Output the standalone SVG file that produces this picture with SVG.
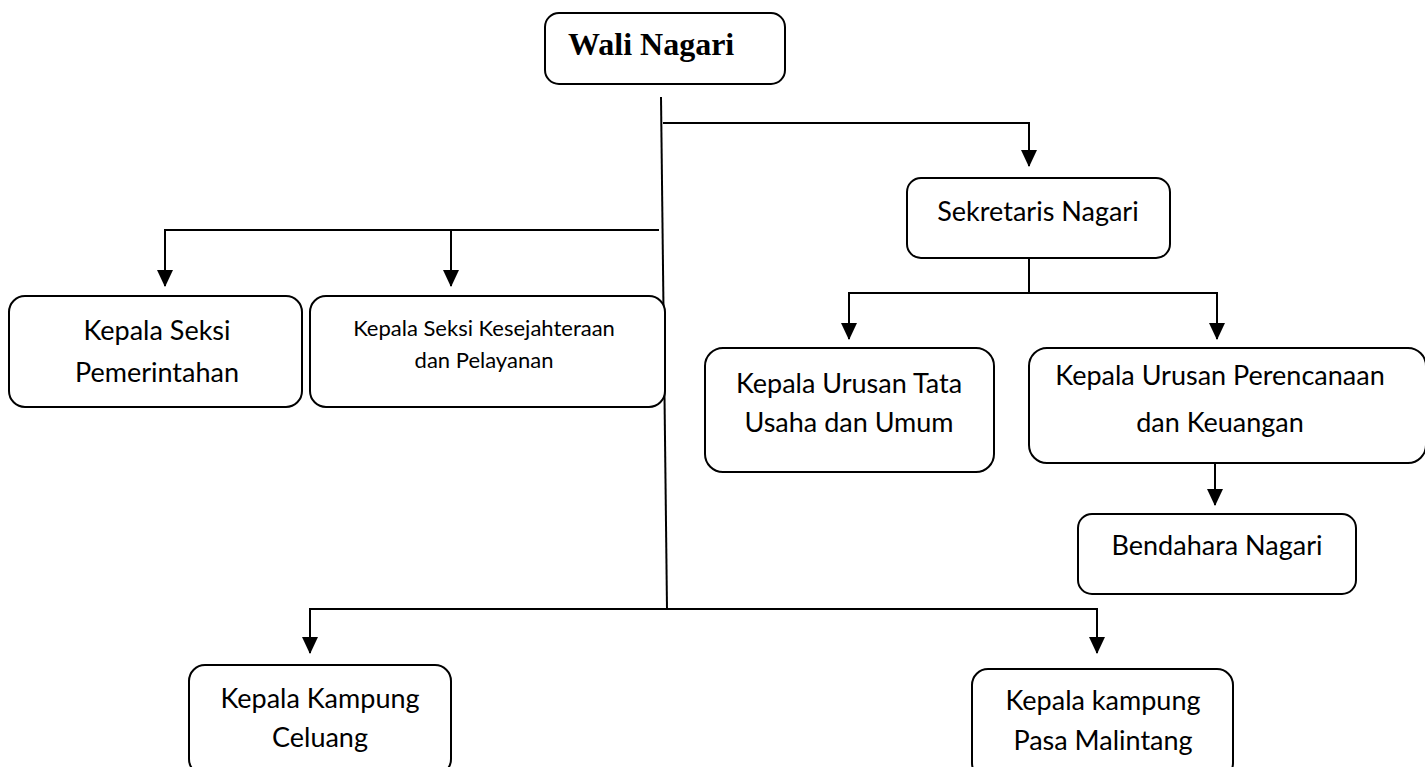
<svg xmlns="http://www.w3.org/2000/svg" width="1425" height="767" viewBox="0 0 1425 767">
<style>
.box{fill:#fff;stroke:#000;stroke-width:2}
.t{font-family:Lato,"Open Sans",sans-serif;font-size:27px;fill:#000;text-anchor:middle}
.s{font-size:22px}
.ln{fill:none;stroke:#000;stroke-width:2}
.ar{fill:none;stroke:#000;stroke-width:2;marker-end:url(#ah)}
</style>
<defs>
<marker id="ah" markerUnits="userSpaceOnUse" markerWidth="17" markerHeight="16" refX="16" refY="8" orient="auto" viewBox="0 0 17 16">
<path d="M0,0 L17,8 L0,16 Z" fill="#000"/>
</marker>
</defs>
<rect width="1425" height="767" fill="#fff"/>
<g id="connectors">
<line class="ln" x1="661" y1="97" x2="667" y2="609"/>
<path class="ar" d="M663,123 H1029 V166"/>
<path class="ln" d="M659,230 H165"/>
<path class="ar" d="M165,229 V286"/>
<path class="ar" d="M451,229 V286"/>
<path class="ln" d="M1029,258 V292"/>
<path class="ln" d="M849,293 H1218"/>
<path class="ar" d="M849,292 V339"/>
<path class="ar" d="M1217,292 V339"/>
<path class="ar" d="M1215,463 V505"/>
<path class="ln" d="M310,609 H1097"/>
<path class="ar" d="M310,608 V653"/>
<path class="ar" d="M1097,608 V653"/>
</g>
<g id="wali-nagari">
<rect class="box" x="545" y="13" width="240" height="71" rx="14"/>
<text x="568" y="55" style="font-family:'Liberation Serif',serif;font-weight:bold;font-size:32px">Wali Nagari</text>
</g>
<g id="sekretaris-nagari">
<rect class="box" x="907" y="178" width="263" height="80" rx="14"/>
<text class="t" x="1038" y="221">Sekretaris Nagari</text>
</g>
<g id="kasi-pemerintahan">
<rect class="box" x="9" y="296" width="293" height="111" rx="16"/>
<text class="t" x="157" y="340">Kepala Seksi</text>
<text class="t" x="157" y="382">Pemerintahan</text>
</g>
<g id="kasi-kesejahteraan">
<rect class="box" x="310" y="296" width="355" height="111" rx="16"/>
<text class="t s" x="484" y="336">Kepala Seksi Kesejahteraan</text>
<text class="t s" x="484" y="368">dan Pelayanan</text>
</g>
<g id="kaur-tata-usaha">
<rect class="box" x="705" y="348" width="289" height="124" rx="18"/>
<text class="t" x="849" y="393">Kepala Urusan Tata</text>
<text class="t" x="849" y="432">Usaha dan Umum</text>
</g>
<g id="kaur-perencanaan">
<rect class="box" x="1029" y="348" width="397" height="115" rx="18"/>
<text class="t" x="1220" y="385">Kepala Urusan Perencanaan</text>
<text class="t" x="1220" y="432">dan Keuangan</text>
</g>
<g id="bendahara-nagari">
<rect class="box" x="1078" y="514" width="278" height="80" rx="14"/>
<text class="t" x="1217" y="555">Bendahara Nagari</text>
</g>
<g id="kk-celuang">
<rect class="box" x="189" y="665" width="262" height="110" rx="16"/>
<text class="t" x="320" y="708">Kepala Kampung</text>
<text class="t" x="320" y="747">Celuang</text>
</g>
<g id="kk-pasa-malintang">
<rect class="box" x="972" y="669" width="261" height="110" rx="16"/>
<text class="t" x="1103" y="710">Kepala kampung</text>
<text class="t" x="1103" y="750">Pasa Malintang</text>
</g>
</svg>
